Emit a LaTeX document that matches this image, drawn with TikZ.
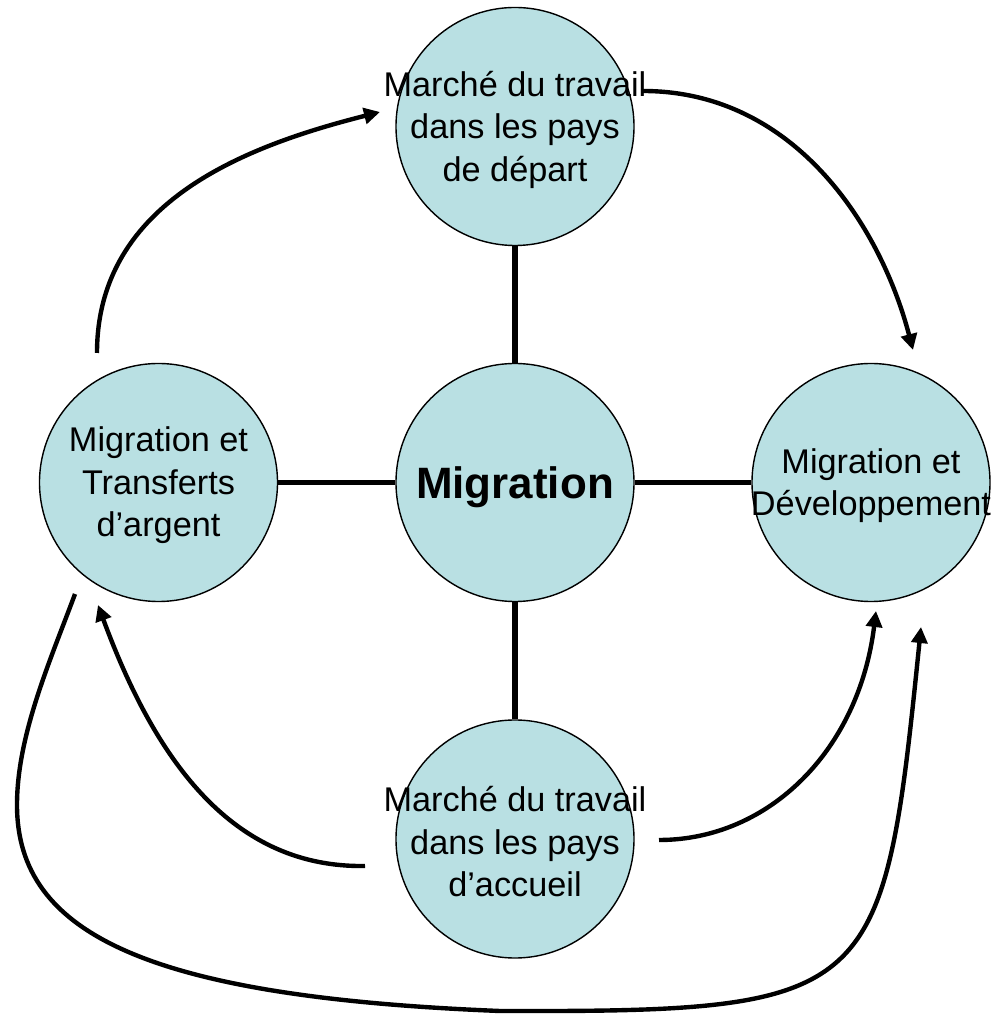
\documentclass[tikz,border=0pt]{standalone}
\usepackage{fontspec}
\setmainfont{Liberation Sans}
\usetikzlibrary{arrows.meta}
\definecolor{bleu}{RGB}{185,224,227}

\begin{document}
\begin{tikzpicture}[
	cercle/.style={circle,draw,line width=0.8pt,fill=bleu,minimum size=4.76cm,inner sep=0pt},
	texte/.style={align=center,yshift=-0.06cm,font=\fontsize{19.5}{24.2}\selectfont},
	lien/.style={line width=3.4pt},
	fleche/.style={line width=2.5pt,-{Triangle[length=3.2mm,width=3.2mm]}}
]
	\useasboundingbox (0,0) rectangle (19.9,20.32);
	% Круги
	\node[cercle,label={[yshift=-0.1cm,font=\fontsize{25}{30}\selectfont\bfseries]center:Migration}] (M) at (10.3,10.67) {};
	\node[cercle,label={[texte]center:Marché du travail\\dans les pays\\de départ}] (Dep) at (10.3,17.79) {};
	\node[cercle,label={[texte]center:Marché du travail\\dans les pays\\d’accueil}] (Acc) at (10.3,3.54) {};
	\node[cercle,label={[texte]center:Migration et\\Transferts\\d’argent}] (Tr) at (3.17,10.67) {};
	\node[cercle,label={[texte]center:Migration et\\Développement}] (Dev) at (17.42,10.67) {};
	% Связи с центром
	\draw[lien] (M) -- (Dep);
	\draw[lien] (M) -- (Acc);
	\draw[lien] (M) -- (Tr);
	\draw[lien] (M) -- (Dev);
	% Концы стрелок
	\coordinate (P1) at (1.94,13.26);
	\coordinate (Q1) at (7.60,18.08);
	\coordinate (P2) at (12.86,18.50);
	\coordinate (Q2) at (18.26,13.32);
	\coordinate (P3) at (7.30,3.00);
	\coordinate (Q3) at (1.96,8.22);
	\coordinate (P4) at (13.18,3.52);
	\coordinate (Q4) at (17.52,8.10);
	\coordinate (P5) at (1.50,8.44);
	\coordinate (Q5) at (18.42,7.78);
	% Стрелки
	\draw[fleche] (P1) .. controls (1.94,16.32) and (5.00,17.42) .. (Q1);
	\draw[fleche] (P2) .. controls (15.86,18.50) and (17.60,15.84) .. (Q2);
	\draw[fleche] (P3) .. controls (4.70,2.96) and (3.14,5.02) .. (Q3);
	\draw[fleche] (P4) .. controls (15.38,3.52) and (17.18,5.32) .. (Q4);
	\draw[fleche] (P5) .. controls (1.01,7.12) and (0.34,5.62) .. (0.34,4.22)
		.. controls (0.34,1.62) and (3.00,0.38) .. (10.00,0.10)
		.. controls (17.56,0.08) and (17.66,0.32) .. (Q5);
\end{tikzpicture}
\end{document}
